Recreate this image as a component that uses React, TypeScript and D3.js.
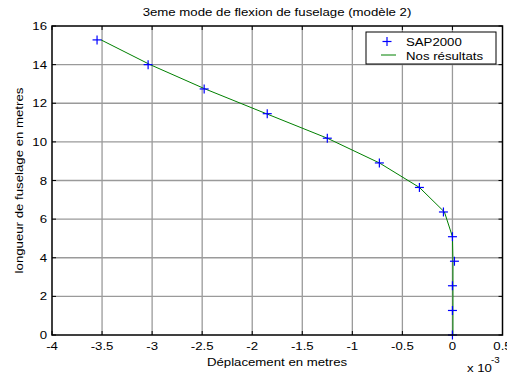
import React from "react";
import * as d3 from "d3";

// Fuselage bending mode 3: lateral displacement (x 1e-3 m) against station height (m)
const sapHeights = [15.28, 14.0, 12.74, 11.46, 10.19, 8.91, 7.64, 6.37, 5.09, 3.82, 2.55, 1.27, 0];
const sapDisp = [-3.55, -3.04, -2.48, -1.85, -1.25, -0.73, -0.33, -0.09, 0.0, 0.02, 0.0, 0.0, 0.0];

const oursHeights = [15.28, 14.0, 12.74, 11.46, 10.19, 8.91, 7.64, 6.37, 5.09, 3.82, 2.55, 1.27, 0];
const oursDisp = [-3.51, -3.02, -2.47, -1.86, -1.25, -0.73, -0.33, -0.08, 0.0, 0.005, 0.005, 0.005, 0.005];

const xTicks = [-4, -3.5, -3, -2.5, -2, -1.5, -1, -0.5, 0, 0.5];
const yTicks = [0, 2, 4, 6, 8, 10, 12, 14, 16];

const titleText = "3eme mode de flexion de fuselage (modèle 2)";
const xLabel = "Déplacement en metres";
const yLabel = "longueur de fuselage en metres";
const legendLabels = ["SAP2000", "Nos résultats"];

const W = 507;
const H = 374;
const left = 52;
const right = 502.5;
const top = 26;
const bottom = 335;
const font = "Liberation Sans, Arial, sans-serif";
const FS = 11.5;
const SX = 1.15;

type TProps = {
  x: number;
  y: number;
  anchor?: "start" | "middle" | "end";
  size?: number;
  rotate?: number;
  children: React.ReactNode;
};

// Text drawn with a slightly wide horizontal stretch
function T({ x, y, anchor = "start", size = FS, rotate = 0, children }: TProps) {
  return (
    <text
      transform={`translate(${x},${y}) rotate(${rotate}) scale(${SX},1)`}
      fontSize={size}
      textAnchor={anchor}
      fill="#000"
    >
      {children}
    </text>
  );
}

export default function App() {
  const x = d3.scaleLinear().domain([-4, 0.5]).range([left, right]);
  const y = d3.scaleLinear().domain([0, 16]).range([bottom, top]);

  const ours = oursDisp.map((d, i) => [d, oursHeights[i]] as [number, number]);
  const sap = sapDisp.map((d, i) => [d, sapHeights[i]] as [number, number]);

  const line = d3
    .line<[number, number]>()
    .x((d) => x(d[0]))
    .y((d) => y(d[1]));

  const plus = (cx: number, cy: number, k: string | number) => (
    <g key={k} stroke="#0000ff" strokeWidth={1.2}>
      <line x1={cx - 4.5} x2={cx + 4.5} y1={cy} y2={cy} />
      <line x1={cx} x2={cx} y1={cy - 4.5} y2={cy + 4.5} />
    </g>
  );

  return (
    <svg
      width={W}
      height={H}
      style={{ position: "absolute", left: 0, top: 0, background: "#fff" }}
      fontFamily={font}
    >
      <rect x={0} y={0} width={W} height={H} fill="#fff" />
      {/* grid */}
      <g stroke="#9a9a9a" strokeWidth={1.3}>
        {xTicks.slice(1, -1).map((t) => (
          <line key={"gx" + t} x1={x(t)} x2={x(t)} y1={top} y2={bottom} />
        ))}
        {yTicks.slice(1, -1).map((t) => (
          <line key={"gy" + t} x1={left} x2={right} y1={y(t)} y2={y(t)} />
        ))}
      </g>
      {/* tick marks */}
      <g stroke="#000" strokeWidth={1}>
        {xTicks.map((t) => (
          <g key={"tx" + t}>
            <line x1={x(t)} x2={x(t)} y1={bottom} y2={bottom - 4} />
            <line x1={x(t)} x2={x(t)} y1={top} y2={top + 4} />
          </g>
        ))}
        {yTicks.map((t) => (
          <g key={"ty" + t}>
            <line x1={left} x2={left + 4} y1={y(t)} y2={y(t)} />
            <line x1={right} x2={right - 4} y1={y(t)} y2={y(t)} />
          </g>
        ))}
      </g>
      {/* data */}
      <path d={line(ours) || ""} fill="none" stroke="#008000" strokeWidth={1} />
      {sap.map((d, i) => plus(x(d[0]), y(d[1]), i))}
      {/* axes box */}
      <rect
        x={left}
        y={top}
        width={right - left}
        height={bottom - top}
        fill="none"
        stroke="#000"
        strokeWidth={1.5}
      />
      {/* tick labels */}
      {xTicks.map((t) => (
        <T key={"lx" + t} x={x(t)} y={bottom + 15} anchor="middle">
          {String(t)}
        </T>
      ))}
      {yTicks.map((t) => (
        <T key={"ly" + t} x={left - 5} y={y(t) + 4} anchor="end">
          {String(t)}
        </T>
      ))}
      {/* exponent */}
      <T x={467} y={372}>x 10</T>
      <T x={491} y={363} size={8.5}>-3</T>
      {/* labels */}
      <T x={277} y={16} anchor="middle">
        {titleText}
      </T>
      <T x={277} y={366} anchor="middle">
        {xLabel}
      </T>
      <text
        transform={`translate(23,${(top + bottom) / 2}) rotate(-90) scale(${SX},1)`}
        fontSize={FS}
        textAnchor="middle"
      >
        {yLabel}
      </text>
      {/* legend */}
      <g>
        <rect x={366} y={32} width={130} height={32} fill="#fff" stroke="#000" strokeWidth={1} />
        {plus(387, 41.5, "leg")}
        <line x1={381} x2={396} y1={55} y2={55} stroke="#008000" strokeWidth={1} />
        <T x={406} y={45.5}>{legendLabels[0]}</T>
        <T x={406} y={59.5}>{legendLabels[1]}</T>
      </g>
    </svg>
  );
}
